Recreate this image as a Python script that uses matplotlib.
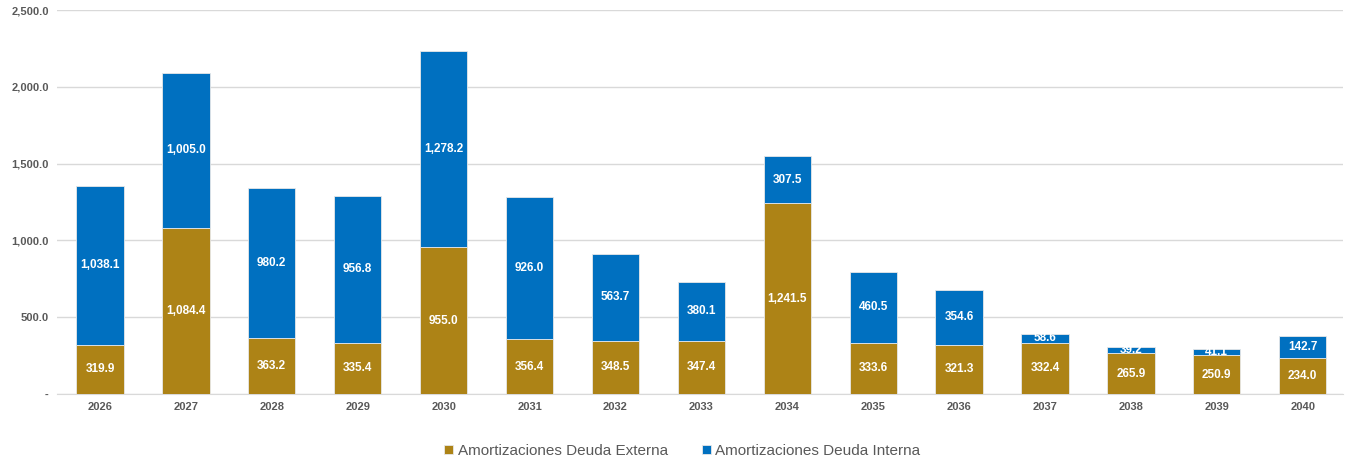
import matplotlib
matplotlib.use("Agg")
import matplotlib.pyplot as plt
from matplotlib.ticker import FuncFormatter

plt.rcParams["font.family"] = ["Liberation Sans", "DejaVu Sans"]

years = ["2026", "2027", "2028", "2029", "2030", "2031", "2032", "2033",
         "2034", "2035", "2036", "2037", "2038", "2039", "2040"]
externa = [319.9, 1084.4, 363.2, 335.4, 955.0, 356.4, 348.5, 347.4,
           1241.5, 333.6, 321.3, 332.4, 265.9, 250.9, 234.0]
interna = [1038.1, 1005.0, 980.2, 956.8, 1278.2, 926.0, 563.7, 380.1,
           307.5, 460.5, 354.6, 58.6, 39.2, 41.1, 142.7]

c_ext = "#AD8316"
c_int = "#0070C0"

fig = plt.figure(figsize=(13.51, 4.63), dpi=100)
ax = fig.add_axes([0.0422, 0.149, 0.952, 0.829])

x = range(len(years))
w = 0.55
b1 = ax.bar(x, externa, width=w, color=c_ext, edgecolor="#E8E8E8", linewidth=0.6,
            label="Amortizaciones Deuda Externa", zorder=3)
b2 = ax.bar(x, interna, width=w, bottom=externa, color=c_int, edgecolor="#E8E8E8",
            linewidth=0.6, label="Amortizaciones Deuda Interna", zorder=3)

for i in x:
    ax.text(i, externa[i] / 2, f"{externa[i]:,.1f}", ha="center", va="center",
            color="white", fontsize=8.5, fontweight="bold", zorder=4)
    ax.text(i, externa[i] + interna[i] / 2, f"{interna[i]:,.1f}", ha="center",
            va="center", color="white", fontsize=8.5, fontweight="bold", zorder=4)

ax.set_xlim(-0.5, 14.47)
ax.set_ylim(0, 2500)
ax.set_yticks([0, 500, 1000, 1500, 2000, 2500])
ax.yaxis.set_major_formatter(FuncFormatter(lambda v, p: "-" if v == 0 else f"{v:,.1f}"))
ax.set_xticks(list(x))
ax.set_xticklabels(years)
ax.grid(axis="y", color="#D9D9D9", linewidth=1, zorder=0)
for s in ["left", "right", "top"]:
    ax.spines[s].set_visible(False)
ax.spines["bottom"].set_color("#D9D9D9")
ax.tick_params(axis="both", length=0, labelsize=8, labelcolor="#595959", pad=6)
for t in ax.get_xticklabels() + ax.get_yticklabels():
    t.set_fontweight("bold")

fig.legend(handles=[b1, b2], loc="center", bbox_to_anchor=(0.505, 0.026),
           ncol=2, frameon=False, fontsize=11, labelcolor="#595959",
           handlelength=0.6, handleheight=0.6, handletextpad=0.3, columnspacing=2.2)

fig.savefig("out.png", dpi=100)
